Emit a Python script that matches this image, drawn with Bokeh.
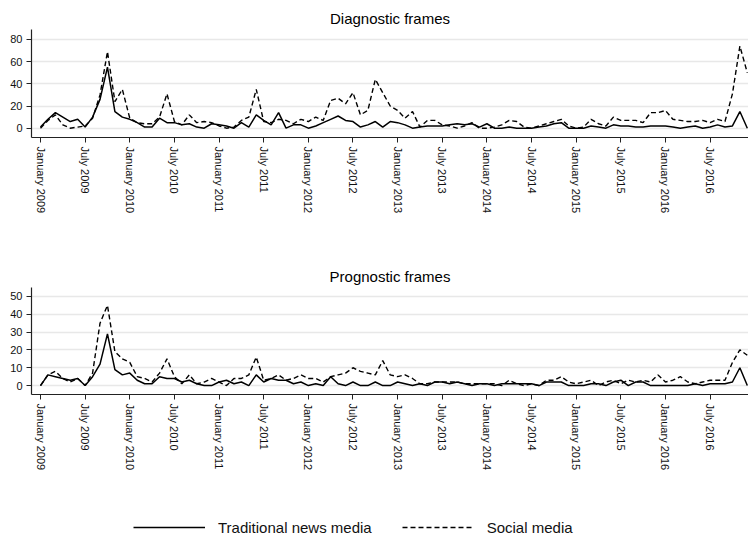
from bokeh.plotting import figure
from bokeh.layouts import column
from bokeh.models import Range1d, FixedTicker, Legend, LegendItem
from bokeh.embed import file_html
from bokeh.resources import INLINE

# ---- data (monthly, January 2009 .. December 2016) ----
months = list(range(96))
tick_pos = list(range(0, 96, 6))
tick_labels = []
for y in range(2009, 2017):
    tick_labels += ["January %d" % y, "July %d" % y]

diag_trad = [1, 8, 14, 10, 6, 8, 1, 10, 26, 55, 15, 10, 8, 5, 1, 1, 9, 5, 5, 3, 4, 1, 0, 4,
             3, 2, 0, 5, 1, 12, 7, 3, 14, 0, 3, 3, 0, 2, 5, 8, 11, 7, 6, 1, 3, 6, 1, 6,
             5, 3, 0, 1, 2, 2, 2, 3, 4, 3, 4, 1, 4, 0, 0, 1, 0, 0, 0, 1, 2, 4, 5, 0,
             0, 0, 2, 1, 0, 3, 2, 2, 1, 1, 2, 2, 2, 1, 0, 1, 2, 0, 1, 3, 1, 2, 15, 0]
diag_soc = [0, 7, 12, 3, 0, 1, 2, 9, 30, 69, 24, 35, 9, 5, 4, 4, 10, 31, 6, 3, 12, 5, 6, 5,
            2, 0, 1, 7, 10, 35, 6, 5, 8, 7, 4, 8, 6, 10, 7, 25, 27, 22, 32, 12, 16, 44, 32, 20,
            16, 9, 15, 1, 7, 7, 3, 2, 0, 2, 5, 0, 0, 1, 3, 7, 6, 1, 0, 2, 4, 6, 8, 2,
            0, 1, 8, 4, 2, 10, 7, 7, 7, 5, 14, 14, 16, 8, 7, 6, 6, 7, 5, 8, 6, 31, 74, 50]
prog_trad = [0, 6, 5, 4, 3, 4, 0, 5, 12, 29, 9, 6, 7, 3, 1, 1, 5, 4, 4, 2, 3, 1, 0, 0,
             2, 3, 1, 2, 0, 6, 2, 4, 3, 3, 1, 2, 0, 1, 0, 5, 1, 0, 2, 0, 0, 2, 0, 0,
             2, 1, 0, 1, 0, 2, 2, 1, 2, 1, 0, 1, 1, 0, 1, 1, 1, 1, 1, 0, 2, 2, 2, 0,
             0, 0, 1, 1, 0, 2, 3, 0, 2, 2, 0, 0, 0, 0, 0, 0, 1, 0, 1, 1, 1, 2, 10, 0]
prog_soc = [0, 6, 8, 4, 2, 4, 0, 7, 35, 45, 19, 15, 13, 5, 4, 2, 7, 15, 5, 1, 6, 1, 2, 4,
            2, 0, 4, 4, 6, 16, 3, 4, 6, 3, 4, 6, 4, 4, 2, 5, 6, 7, 10, 8, 7, 6, 14, 6,
            5, 6, 4, 1, 1, 2, 2, 2, 2, 1, 1, 1, 1, 1, 0, 3, 1, 0, 1, 0, 3, 3, 5, 2,
            1, 2, 3, 0, 2, 3, 1, 3, 2, 3, 2, 6, 2, 3, 5, 2, 1, 2, 3, 3, 3, 13, 20, 17]

FONT = "Liberation Sans"
W = 748


def panel(title, trad, soc, yr, yticks, height, top, bottom):
    p = figure(width=W, height=height, output_backend="svg", toolbar_location=None,
               x_range=Range1d(-1.21, 95.16), y_range=Range1d(*yr),
               min_border_left=31, min_border_right=0,
               min_border_top=top, min_border_bottom=bottom)
    p.title.text = title
    p.title.align = "center"
    p.title.text_font = FONT
    p.title.text_font_size = "15px"
    p.title.text_font_style = "normal"
    p.title.text_color = "#000000"
    p.title.standoff = 5
    p.outline_line_color = None
    p.xgrid.visible = False
    p.ygrid.grid_line_color = "#e8e8e8"
    p.ygrid.grid_line_width = 1.5
    p.ygrid.ticker = FixedTicker(ticks=yticks)

    p.line(months, trad, line_color="black", line_width=1.5)
    p.line(months, soc, line_color="black", line_width=1.4, line_dash="5 3")

    p.xaxis.ticker = FixedTicker(ticks=tick_pos)
    p.xaxis.major_label_overrides = {t: l for t, l in zip(tick_pos, tick_labels)}
    p.xaxis.major_label_orientation = "vertical"
    p.yaxis.ticker = FixedTicker(ticks=yticks)
    for ax in (p.xaxis, p.yaxis):
        ax.axis_line_color = "#222222"
        ax.axis_line_width = 1.2
        ax.major_tick_line_color = "#222222"
        ax.major_tick_out = 5
        ax.major_tick_in = 0
        ax.minor_tick_line_color = None
        ax.major_label_text_font = FONT
        ax.major_label_text_font_size = "11px"
        ax.major_label_text_color = "#111111"
        ax.major_label_standoff = 4
    return p


p1 = panel("Diagnostic frames", diag_trad, diag_soc, (-8.4, 89), [0, 20, 40, 60, 80], 258, 29, 121)
p2 = panel("Prognostic frames", prog_trad, prog_soc, (-5, 55), [0, 10, 20, 30, 40, 50], 222, 29, 86)

leg = figure(width=W, height=60, output_backend="svg", toolbar_location=None,
             x_range=Range1d(0, 1), y_range=Range1d(0, 1),
             min_border_left=0, min_border_right=0, min_border_top=0, min_border_bottom=0)
leg.axis.visible = False
leg.grid.visible = False
leg.outline_line_color = None
r1 = leg.line([-5, -4], [-5, -4], line_color="black", line_width=1.5)
r2 = leg.line([-5, -4], [-5, -4], line_color="black", line_width=1.4, line_dash="5 3")
legend = Legend(items=[LegendItem(label="Traditional news media", renderers=[r1]),
                       LegendItem(label="Social media", renderers=[r2])],
                orientation="horizontal", location=(102, 3),
                glyph_width=72, glyph_height=20, label_standoff=13, spacing=30,
                padding=0, margin=0, border_line_color=None, background_fill_alpha=0,
                label_text_font=FONT, label_text_font_size="15px", label_text_color="#111111")
leg.add_layout(legend, "center")

layout = column(p1, p2, leg)
open("out.html", "w").write(file_html(layout, INLINE))
